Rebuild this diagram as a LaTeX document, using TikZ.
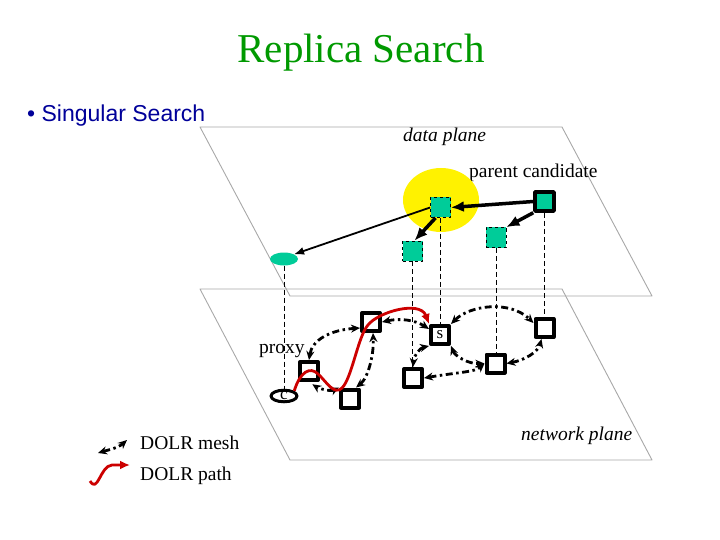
\documentclass[tikz,border=0pt]{standalone}
\usepackage{fontspec}
\setmainfont{Liberation Serif}
\newfontfamily\bulletfont{Liberation Sans}
\usetikzlibrary{arrows.meta,shapes.geometric}
\definecolor{TitleGreen}{HTML}{009900}
\definecolor{BulletBlue}{HTML}{000099}
\definecolor{PlaneGray}{HTML}{A8A8A8}
\definecolor{NodeTeal}{HTML}{00CC99}
\definecolor{PathRed}{HTML}{CC0000}

\tikzset{
  datasq/.style={rectangle,draw,dashed,line width=0.7pt,fill=NodeTeal,minimum size=20pt,inner sep=0pt},
  rootsq/.style={rectangle,draw,line width=3.5pt,fill=NodeTeal,minimum size=19pt,inner sep=0pt},
  netsq/.style={rectangle,draw,line width=4pt,fill=white,minimum size=18pt,inner sep=0pt},
  plane/.style={PlaneGray,line width=0.9pt},
  drop/.style={dash pattern=on 5pt off 3pt,line width=1pt},
  ptr/.style={line width=3.5pt,-{Latex[length=13pt,width=11pt]}},
  mesh/.style={line width=2.8pt,dash pattern=on 7pt off 3.5pt on 2.5pt off 3.5pt,
    {Stealth[length=9pt,width=8pt]}-{Stealth[length=9pt,width=8pt]}},
  dolr/.style={PathRed,line width=2.8pt,-{Latex[length=10pt,width=9pt]}},
  lbl/.style={font=\fontsize{19.5}{22}\selectfont,inner sep=0pt,anchor=base west},
}

\begin{document}
\begin{tikzpicture}[x=1pt,y=-1pt,line join=round]
  \useasboundingbox (0,0) rectangle (720,540);
  % heading
  \node[font=\fontsize{41}{46}\selectfont,TitleGreen,anchor=base] (title) at (361,63) {Replica Search};
  \node[font=\bulletfont\fontsize{23}{26}\selectfont,BulletBlue,anchor=base west,inner sep=0pt] (bullet) at (27,122) {• Singular Search};
  % the two planes
  \draw[plane] (200,127) -- (562,127) -- (652,296) -- (290,296) -- cycle;
  \draw[plane] (200,289) -- (562,289) -- (652,460) -- (290,460) -- cycle;
  \node[lbl,font=\itshape\fontsize{19.5}{22}\selectfont] (dlabel) at (403,142) {data plane};
  \node[lbl,font=\itshape\fontsize{19.5}{22}\selectfont] (nlabel) at (521,440) {network plane};
  \node[lbl] (plabel) at (469,178) {parent candidate};
  % data plane
  \node[ellipse,fill=yellow,minimum width=76pt,minimum height=64pt] (halo) at (441,200) {};
  \node[datasq] (dpar) at (440.5,207.5) {};
  \node[datasq] (dB) at (412.5,251) {};
  \node[datasq] (dC) at (496,237.5) {};
  \node[rootsq] (droot) at (544.5,201.5) {};
  \node[ellipse,fill=NodeTeal,minimum width=28pt,minimum height=13pt,inner sep=0pt] (dprox) at (284,259) {};
  % network plane
  \node[ellipse,draw,line width=3pt,fill=white,minimum width=26pt,minimum height=10pt,inner sep=0pt,
    font=\fontsize{17}{18}\selectfont] (nc) at (284,396) {c};
  \node[netsq] (np1) at (309,371) {};
  \node[netsq] (np2) at (350,398.5) {};
  \node[netsq] (np3) at (371,322) {};
  \node[netsq,font=\fontsize{17}{18}\selectfont] (ns) at (440,335) {s};
  \node[netsq] (np5) at (413,378) {};
  \node[netsq] (np6) at (495.5,363.5) {};
  \node[netsq] (np7) at (544.5,328) {};
  \node[lbl] (xlabel) at (259,353) {proxy};
  % drops between planes
  \draw[drop] (dprox.south) -- (nc.north);
  \draw[drop] (dB.south) -- (dB.south |- np5.north);
  \draw[drop] (dpar.south) -- (dpar.south |- ns.north);
  \draw[drop] (dC.south) -- (dC.south |- np6.north);
  \draw[drop] (droot.south) -- (droot.south |- np7.north);
  % pointers
  \draw[ptr] (droot.west) -- (dpar.east);
  \draw[ptr] (droot.south west) -- (dC.north east);
  \draw[ptr] ([xshift=-5pt]dpar.south) -- ([xshift=2pt]dB.north);
  \draw[line width=1.8pt,-{Latex[length=10pt,width=8pt]}] (dpar.west) -- (dprox.north east);
  % mesh links
  \draw[mesh] (np1.north) .. controls (312,340) and (330,330) .. ([yshift=-6pt]np3.west);
  \draw[mesh] ([xshift=6pt]np2.north) .. controls (368,378) and (374,355) .. ([xshift=2pt]np3.south);
  \draw[mesh,shorten >=4pt] (np2.north west) .. controls (330,392) and (318,388) .. (np1.south);
  \draw[mesh] (np3.east) .. controls (400,318) and (415,320) .. ([yshift=6pt]ns.west);
  \draw[mesh] (ns.south west) .. controls (420,348) and (414,355) .. (np5.north);
  \draw[mesh] (np5.east) .. controls (460,372) and (475,372) .. (np6.west);
  \draw[mesh] (ns.south east) .. controls (455,356) and (468,364) .. (np6.west);
  \draw[mesh] (ns.north east) .. controls (470,305) and (510,300) .. ([yshift=5pt]np7.west);
  \draw[mesh] (np6.east) .. controls (525,360) and (538,352) .. ([xshift=-3pt]np7.south);
  % route
  \draw[dolr] (nc.north east) .. controls (300,372) and (310,366) .. (318,374)
    .. controls (326,381) and (334,396) .. (342,388)
    .. controls (352,378) and (358,336) .. (368,325)
    .. controls (378,312) and (420,300) .. (ns.north west);
  % legend
  \coordinate (lm1) at (98,453);\coordinate (lm2) at (127,440);
  \coordinate (lp1) at (90,481);\coordinate (lp2) at (130,465);
  \draw[mesh] (lm1) .. controls (108,450) and (118,448) .. (lm2);
  \draw[dolr] (lp1) .. controls (98,494) and (100,466) .. (112,465) -- (lp2);
  \node[lbl] (lmesh) at (140,449) {DOLR mesh};
  \node[lbl] (lpath) at (140,480) {DOLR path};
\end{tikzpicture}
\end{document}
